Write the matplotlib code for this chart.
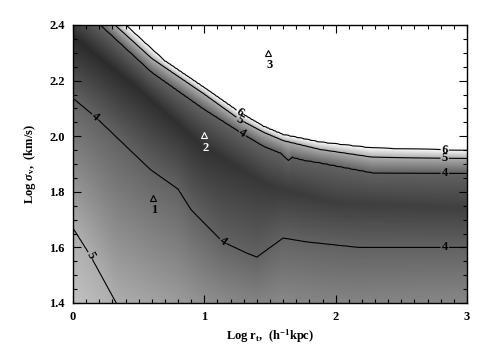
import numpy as np
import matplotlib
matplotlib.use("Agg")
import matplotlib.pyplot as plt
from matplotlib.ticker import MultipleLocator

# contour curves: (log r_t, log sigma_v) pairs
lower5 = [(0.0, 1.67), (0.13, 1.573), (0.33, 1.40), (1.0, 1.22), (2.0, 1.15), (3.0, 1.20)]
lower4 = [(0.0, 2.137), (0.17, 2.07), (0.59, 1.88), (0.80, 1.81), (0.90, 1.735),
          (1.14, 1.62), (1.32, 1.58), (1.40, 1.565), (1.60, 1.634), (1.78, 1.62),
          (2.18, 1.60), (3.0, 1.60)]
ridge = [(0.0, 2.36), (0.5, 2.17), (1.0, 1.96), (1.5, 1.82), (2.0, 1.76), (3.0, 1.74)]
ridge_level = [3.25, 3.3, 3.35, 3.45, 3.52, 3.55]
upper4 = [(0.0, 2.48), (0.21, 2.40), (0.6, 2.23), (0.99, 2.10), (1.29, 2.01),
          (1.45, 1.965), (1.58, 1.94), (1.64, 1.914), (1.67, 1.925), (1.75, 1.915),
          (1.88, 1.905), (2.28, 1.869), (3.0, 1.868)]
upper5 = [(0.0, 2.53), (0.32, 2.40), (0.6, 2.28), (0.99, 2.155), (1.27, 2.06),
          (1.45, 2.015), (1.6, 1.985), (1.88, 1.953), (2.28, 1.925), (3.0, 1.92)]
upper6 = [(0.0, 2.58), (0.40, 2.40), (0.7, 2.27), (0.99, 2.177), (1.27, 2.085),
          (1.45, 2.035), (1.6, 2.005), (1.88, 1.978), (2.28, 1.957), (3.0, 1.948)]
corner_value = 5.5

# models marked with triangles
model_x = [0.61, 1.0, 1.485]
model_y = [1.778, 2.004, 2.30]
model_names = ["1", "2", "3"]
model_colors = ["black", "white", "black"]

# build the gray field column by column between the read contour curves
xs = np.linspace(0, 3, 301)
ys = np.linspace(1.4, 2.4, 201)


def at(curve, x):
    cx, cy = np.array(curve).T
    return np.interp(x, cx, cy)


rx = np.array(ridge)[:, 0]
field = np.zeros((len(ys), len(xs)))
for j, x in enumerate(xs):
    y5l = at(lower5, x)
    y6 = at(upper6, x)
    ky = [y5l - 0.5, y5l, at(lower4, x), at(ridge, x), at(upper4, x),
          at(upper5, x), y6, y6 + 0.3]
    kv = [corner_value, 5, 4, np.interp(x, rx, ridge_level), 4, 5, 6, 8]
    field[:, j] = np.interp(ys, ky, kv)

plt.rcParams['font.family'] = ['Liberation Serif', 'DejaVu Serif']
plt.rcParams['mathtext.fontset'] = 'custom'
plt.rcParams['mathtext.rm'] = 'Liberation Serif:bold'
plt.rcParams['mathtext.it'] = 'Liberation Serif:italic:bold'
fig = plt.figure(figsize=(4.91, 3.51), dpi=100)
ax = fig.add_axes([73 / 491, 1 - 303 / 351, 394 / 491, 278 / 351])

ax.imshow(field, extent=[0, 3, 1.4, 2.4], origin='lower', aspect='auto',
          cmap='gray', vmin=2.685, vmax=6.1, interpolation='bilinear')
cs = ax.contour(xs, ys, field, levels=[4, 5, 6], colors='black', linewidths=0.8)
labels = ax.clabel(cs, fmt='%d', fontsize=9, inline=True, inline_spacing=1,
                   manual=[(0.17, 2.07), (0.13, 1.57), (1.14, 1.62), (2.83, 1.60),
                           (1.29, 2.01), (1.27, 2.06), (1.27, 2.085),
                           (2.83, 1.868), (2.83, 1.92), (2.83, 1.948)])
for t in labels:
    t.set_fontweight('bold')

for mx, my, name, c in zip(model_x, model_y, model_names, model_colors):
    ax.plot(mx, my, marker='^', ms=4.5, mfc='none', mec=c, mew=0.8)
    ax.text(mx + 0.01, my - 0.045, name, color=c, fontsize=9, fontweight='bold',
            ha='center', va='center')

ax.set_xlim(0, 3)
ax.set_ylim(1.4, 2.4)
ax.xaxis.set_major_locator(MultipleLocator(1))
ax.xaxis.set_minor_locator(MultipleLocator(0.1))
ax.yaxis.set_major_locator(MultipleLocator(0.2))
ax.yaxis.set_minor_locator(MultipleLocator(0.05))
ax.yaxis.set_major_formatter(plt.FormatStrFormatter('%.1f'))
ax.tick_params(which='both', direction='in', top=True, right=True,
               labelsize=9, width=0.8, pad=6)
ax.tick_params(which='major', length=6)
ax.tick_params(which='minor', length=3)
for lab in ax.get_xticklabels() + ax.get_yticklabels():
    lab.set_fontweight('bold')
for s in ax.spines.values():
    s.set_linewidth(1.0)

ax.set_xlabel(r'Log r$_{\rm t}$,  (h$^{-1}$kpc)', fontsize=9, fontweight='bold', labelpad=3)
ax.set_ylabel(r'Log $\sigma_{\rm v}$,  (km/s)', fontsize=9, fontweight='bold', labelpad=8)

fig.savefig('out.png', dpi=100)
